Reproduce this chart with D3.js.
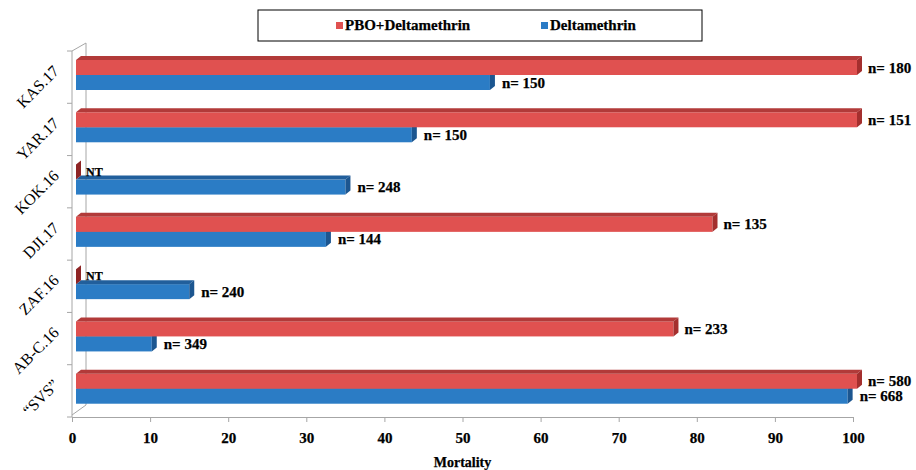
<!DOCTYPE html>
<html>
<head>
<meta charset="utf-8">
<script src="https://cdn.jsdelivr.net/npm/d3@7"></script>
<style>
  body { margin: 0; background: #fff; }
  svg text { font-family: "Liberation Serif", "Times New Roman", serif; }
</style>
</head>
<body>
<svg id="chart" width="916" height="470"></svg>
<script>
// small jetpack-style helper: camelCase attrs
d3.selection.prototype.at = function(obj){
  var sel = this
  Object.keys(obj).forEach(k => {
    sel.attr(k.replace(/[A-Z]/g, m => '-' + m.toLowerCase()), obj[k])
  })
  return sel
}

// categories top to bottom
var categories = ['KAS.17', 'YAR.17', 'KOK.16', 'DJI.17', 'ZAF.16', 'AB-C.16', '\u201CSVS\u201D']
var seriesNames = ['PBO+Deltamethrin', 'Deltamethrin']
// mortality (%), null = not tested
var pboValues = [100, 100, null, 81.5, null, 76.5, 100]
var deltaValues = [53, 43, 34.5, 32, 14.5, 9.7, 98.8]
var pboLabels = ['n= 180', 'n= 151', 'NT', 'n= 135', 'NT', 'n= 233', 'n= 580']
var deltaLabels = ['n= 150', 'n= 150', 'n= 248', 'n= 144', 'n= 240', 'n= 349', 'n= 668']
var xTicks = [0, 10, 20, 30, 40, 50, 60, 70, 80, 90, 100]

var colors = {
  red: {front: '#e05150', top: '#b23a39', side: '#a42f2e'},
  blue: {front: '#2b7cc5', top: '#215f9c', side: '#1c5690'}
}

var serif = '"Liberation Serif", "Times New Roman", serif'
var heavy = {fontFamily: serif, fontWeight: 'bold', fill: '#000', stroke: '#000', strokeWidth: 0.25}
var svg = d3.select('#chart')
var axisColor = '#a6a6a6'

// front plane of the floor / wall
var x = d3.scaleLinear().domain([0, 100]).range([72, 853])
var y = d3.scaleBand().domain(categories).range([51, 417])

// wall depth and bar depth
var wall = {dx: 14, dy: -8}
var bar = {dx: 5, dy: -4, h: 15, shiftX: 4, offY: 9}

// wall + floor lines
var g = svg.append('g').attr('stroke', axisColor).attr('fill', 'none').attr('stroke-width', 1)
g.append('line').at({x1: x(0), x2: x(0), y1: y.range()[0], y2: y.range()[1]})
g.append('line').at({x1: x(0) + wall.dx, x2: x(0) + wall.dx, y1: y.range()[0] + wall.dy, y2: y.range()[1] + wall.dy - 4})
g.append('line').at({x1: x(0), x2: x(0) + wall.dx, y1: y.range()[0], y2: y.range()[0] + wall.dy})
g.append('line').at({x1: x(0), x2: x(0) + wall.dx, y1: y.range()[1] - 2, y2: y.range()[1] + wall.dy - 4})

// category ticks on the wall
var bounds = categories.map(d => y(d)).concat([y.range()[1]])
g.selectAll('line.ctick').data(bounds).enter().append('line')
  .at({x1: x(0) - 5, x2: x(0), y1: d => d, y2: d => d})

// floor axis
var xAxis = d3.axisBottom(x).tickValues(xTicks).tickSize(5).tickPadding(10)
var axG = svg.append('g').attr('transform', 'translate(0,' + y.range()[1] + ')').call(xAxis)
axG.attr('font-family', serif)
axG.select('.domain').attr('stroke', axisColor)
axG.selectAll('.tick line').attr('stroke', axisColor)
axG.selectAll('.tick text').at(heavy).at({fontSize: 15})

svg.append('text')
  .text('Mortality')
  .at(heavy)
  .at({x: (x(0) + x(100)) / 2, y: 467, textAnchor: 'middle', fontSize: 14})

// category labels, rotated
svg.selectAll('text.cat').data(categories).enter().append('text')
  .attr('class', 'cat')
  .text(d => d)
  .attr('transform', d => 'translate(' + (x(0) - 12) + ',' + (y(d) + y.bandwidth() / 2 - 5) + ') rotate(-45)')
  .at({textAnchor: 'end', fontSize: 16, fill: '#000', fontFamily: serif})

// 3d bars
function bar3d(sel, v, top, c){
  var x0 = x(0) + bar.shiftX
  var x1 = x(v) + bar.shiftX
  var h = bar.h
  sel.append('rect').at({x: x0, y: top, width: x1 - x0, height: h, fill: c.front})
  sel.append('path').at({
    d: 'M' + [x0, top] + 'L' + [x0 + bar.dx, top + bar.dy] + 'L' + [x1 + bar.dx, top + bar.dy] + 'L' + [x1, top] + 'Z',
    fill: c.top
  })
  sel.append('path').at({
    d: 'M' + [x1, top] + 'L' + [x1 + bar.dx, top + bar.dy] + 'L' + [x1 + bar.dx, top + h + bar.dy] + 'L' + [x1, top + h] + 'Z',
    fill: c.side
  })
  return x1 + bar.dx
}

categories.forEach((cat, i) => {
  var top = y(cat) + bar.offY
  var bg = svg.append('g')
  var rg = svg.append('g')
  // blue drawn first so the red front hides the blue top face
  var bEnd = bar3d(bg, deltaValues[i], top + bar.h, colors.blue)
  bg.append('text').text(deltaLabels[i]).at(heavy)
    .at({x: bEnd + 7, y: top + bar.h * 1.5 + 5, fontSize: 15})
  var pv = pboValues[i]
  if (pv == null){
    var x0 = x(0) + bar.shiftX
    rg.append('path').at({
      d: 'M' + [x0, top] + 'L' + [x0 + bar.dx, top + bar.dy] + 'L' + [x0 + bar.dx, top + bar.h + bar.dy] + 'L' + [x0, top + bar.h] + 'Z',
      fill: '#8e2424'
    })
    rg.append('text').text(pboLabels[i]).at(heavy)
      .at({x: x0 + bar.dx + 5, y: top + 11, fontSize: 12})
  } else {
    var rEnd = bar3d(rg, pv, top, colors.red)
    rg.append('text').text(pboLabels[i]).at(heavy)
      .at({x: rEnd + 6, y: top + bar.h / 2 + 5, fontSize: 15})
  }
})

// legend
var lg = svg.append('g')
lg.append('rect').at({x: 258, y: 10, width: 444, height: 31, fill: '#fff', stroke: '#000', strokeWidth: 1})
var legendX = [336, 541]
var legendColors = [colors.red.front, colors.blue.front]
seriesNames.forEach((name, i) => {
  lg.append('rect').at({x: legendX[i], y: 22, width: 7, height: 7, fill: legendColors[i]})
  lg.append('text').text(name).at(heavy)
    .at({x: legendX[i] + 9, y: 30, fontSize: 15})
})
</script>
</body>
</html>
